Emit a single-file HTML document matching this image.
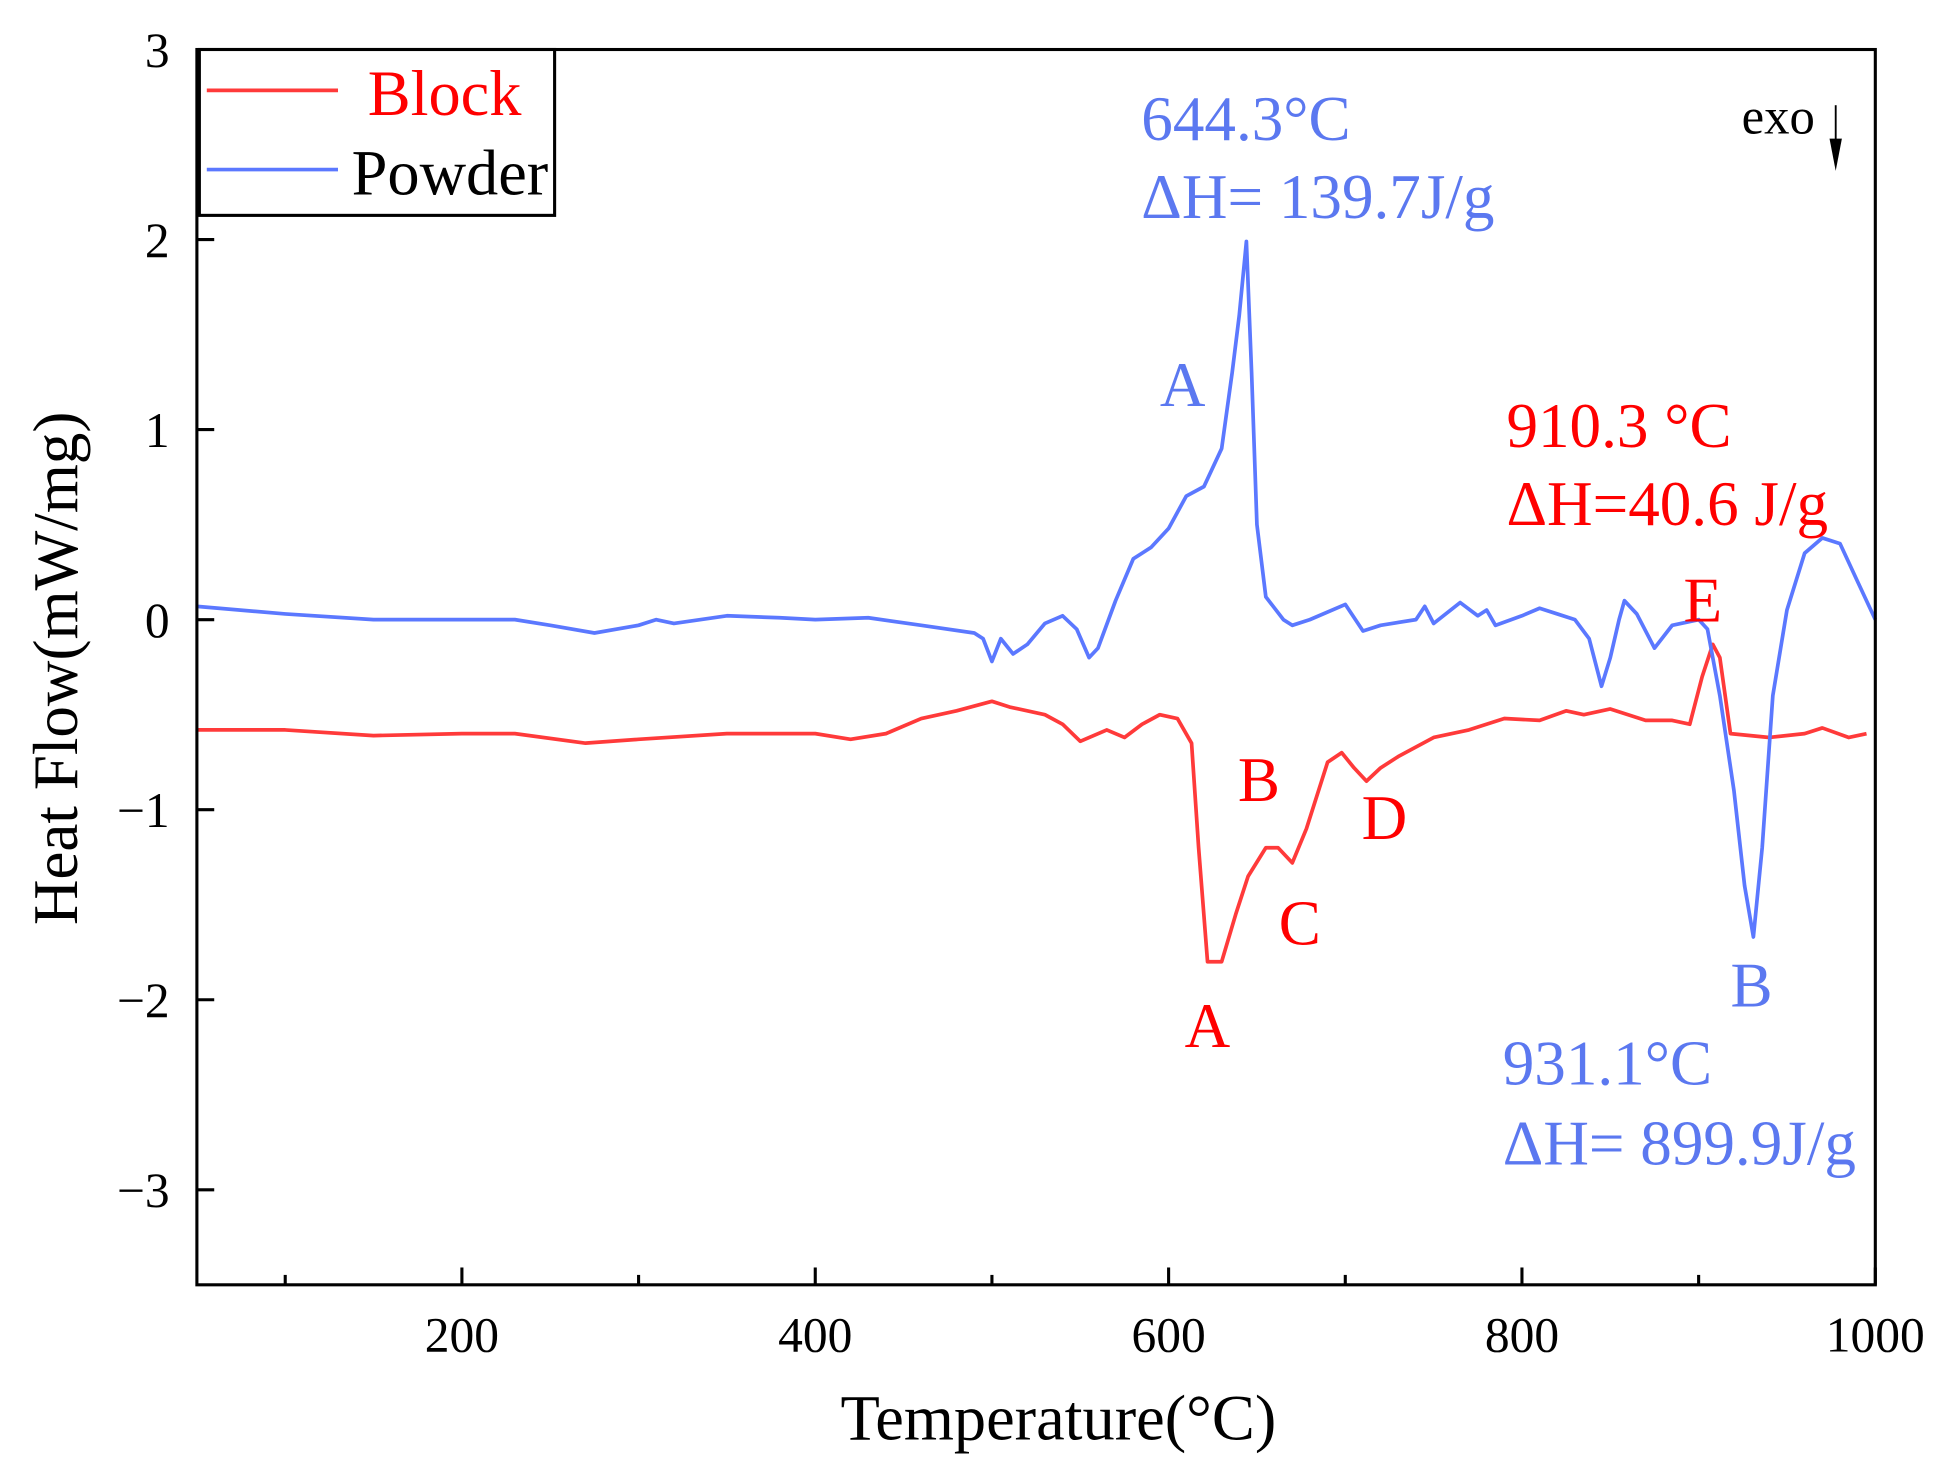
<!DOCTYPE html>
<html><head><meta charset="utf-8"><style>
html,body{margin:0;padding:0;background:#fff}
svg{display:block;font-family:"Liberation Serif",serif}
</style></head><body>
<svg id="chart" width="1941" height="1468" viewBox="0 0 1568 1186" xmlns="http://www.w3.org/2000/svg">
<rect width="1568" height="1186" fill="#fff"/>
<g id="ticks"></g>
<g id="series"></g>
<rect x="159" y="40" width="1356" height="998" fill="none" stroke="#000" stroke-width="2.5"/>
<g>
<rect x="161" y="40" width="287" height="134" fill="#fff" stroke="#000" stroke-width="2.5"/>
<line x1="167" y1="73" x2="273" y2="73" stroke="#ff3a3a" stroke-width="3"/>
<text x="297" y="93" font-size="52" fill="#ff0000">Block</text>
<line x1="167" y1="137" x2="273" y2="137" stroke="#5b78ff" stroke-width="3"/>
<text x="284" y="157" font-size="52" fill="#000">Powder</text>
</g>
<g font-size="51">
<text x="922" y="113" fill="#5b78f0">644.3°C</text>
<text x="922" y="176" fill="#5b78f0">ΔH= 139.7J/g</text>
<text x="937" y="328" fill="#5b78f0">A</text>
<text x="1217" y="361" fill="#ff0000">910.3 °C</text>
<text x="1217" y="424" fill="#ff0000">ΔH=40.6 J/g</text>
<text x="1360" y="502" fill="#ff0000">E</text>
<text x="1000" y="647" fill="#ff0000">B</text>
<text x="1033" y="763" fill="#ff0000">C</text>
<text x="1100" y="678" fill="#ff0000">D</text>
<text x="957" y="846" fill="#ff0000">A</text>
<text x="1398" y="813" fill="#5b78f0">B</text>
<text x="1214" y="876" fill="#5b78f0">931.1°C</text>
<text x="1214" y="941" fill="#5b78f0">ΔH= 899.9J/g</text>
<text x="1407" y="108" fill="#000" font-size="41">exo</text>
</g>
<line x1="1483" y1="85" x2="1483" y2="120" stroke="#000" stroke-width="1.5"/>
<polygon points="1478,112 1488,112 1483,138" fill="#000"/>
<text x="855" y="1163" font-size="52" text-anchor="middle">Temperature(°C)</text>
<text transform="translate(62,540) rotate(-90)" font-size="51" text-anchor="middle">Heat Flow(mW/mg)</text>
</svg>
<script>
const powderT=[50,100,150,200,230,250,275,300,310,320,350,380,400,430,460,490,495,500,505,512,520,530,540,548,555,560,570,580,590,600,610,620,630,636,640,644,647,650,655,665,670,680,700,710,720,740,745,750,765,775,780,785,800,810,820,830,838,845,850,855,858,865,875,885,900,905,912,920,926,931,936,942,950,960,970,980,990,1000];
const powderHF=[0.07,0.03,0.0,0.0,0.0,-0.03,-0.07,-0.03,0.0,-0.02,0.02,0.01,0.0,0.01,-0.03,-0.07,-0.1,-0.22,-0.1,-0.18,-0.13,-0.02,0.02,-0.05,-0.2,-0.15,0.1,0.32,0.38,0.48,0.65,0.7,0.9,1.3,1.6,1.99,1.3,0.5,0.12,0.0,-0.03,0.0,0.08,-0.06,-0.03,0.0,0.07,-0.02,0.09,0.02,0.05,-0.03,0.02,0.06,0.03,0.0,-0.1,-0.35,-0.2,0.0,0.1,0.03,-0.15,-0.03,0.0,-0.05,-0.4,-0.9,-1.4,-1.67,-1.2,-0.4,0.05,0.35,0.43,0.4,0.2,0.0];
const blockT=[50,100,150,200,230,270,300,350,380,400,420,440,460,480,500,510,530,540,550,565,575,585,595,605,613,617,622,630,638,645,655,662,670,678,690,698,705,712,720,730,750,770,790,810,825,835,850,870,885,895,902,908,912,918,940,960,970,985,995];
const blockHF=[-0.58,-0.58,-0.61,-0.6,-0.6,-0.65,-0.63,-0.6,-0.6,-0.6,-0.63,-0.6,-0.52,-0.48,-0.43,-0.46,-0.5,-0.55,-0.64,-0.58,-0.62,-0.55,-0.5,-0.52,-0.65,-1.2,-1.8,-1.8,-1.55,-1.35,-1.2,-1.2,-1.28,-1.1,-0.75,-0.7,-0.78,-0.85,-0.78,-0.72,-0.62,-0.58,-0.52,-0.53,-0.48,-0.5,-0.47,-0.53,-0.53,-0.55,-0.3,-0.13,-0.2,-0.6,-0.62,-0.6,-0.57,-0.62,-0.6];
const xTicks=[200,400,600,800,1000];
const xMinor=[100,300,500,700,900];
const yTicks=[-3,-2,-1,0,1,2,3];
const yTickLabels=["\u22123","\u22122","\u22121","0","1","2","3"];
const NS="http://www.w3.org/2000/svg";
const X0=159,X1=1515,Y0=1038,Y1=40,XMIN=50,XMAX=1000,YMIN=-3.5,YMAX=3;
function sx(v){return X0+(v-XMIN)/(XMAX-XMIN)*(X1-X0);}
function sy(v){return Y0-(v-YMIN)/(YMAX-YMIN)*(Y0-Y1);}
const tg=document.getElementById('ticks'),sg=document.getElementById('series');
function mk(tag,attrs,parent){const e=document.createElementNS(NS,tag);for(const k in attrs)e.setAttribute(k,attrs[k]);parent.appendChild(e);return e;}
xTicks.forEach(v=>{
 const l=mk('line',{x1:sx(v),x2:sx(v),y1:Y0,y2:Y0-14,stroke:'#000','stroke-width':2.5},tg);
 
 
 const t=mk('text',{x:sx(v),y:Y0+54,'font-size':40,'text-anchor':'middle'},tg);
 
 
 t.textContent=v;
});
xMinor.forEach(v=>{
 const l=mk('line',{x1:sx(v),x2:sx(v),y1:Y0,y2:Y0-8,stroke:'#000','stroke-width':2.5},tg);
 
 
});
yTicks.forEach((v,i)=>{
 const l=mk('line',{x1:X0,x2:X0+14,y1:sy(v),y2:sy(v),stroke:'#000','stroke-width':2.5},tg);
 
 
 const t=mk('text',{x:X0-22,y:sy(v)+14,'font-size':40,'text-anchor':'end'},tg);
 
 
 t.textContent=yTickLabels[i];
});
function line(T,H,color,name){
 const d=T.map((t,i)=>(i?'L':'M')+sx(t).toFixed(1)+','+sy(H[i]).toFixed(1)).join('');
 const p=mk('path',{d:d,fill:'none',stroke:color,'stroke-width':3,'stroke-linejoin':'round'},sg);
 
 
}
line(blockT,blockHF,'#ff3a3a','block-line');
line(powderT,powderHF,'#5b78ff','powder-line');
</script>
</body></html>
